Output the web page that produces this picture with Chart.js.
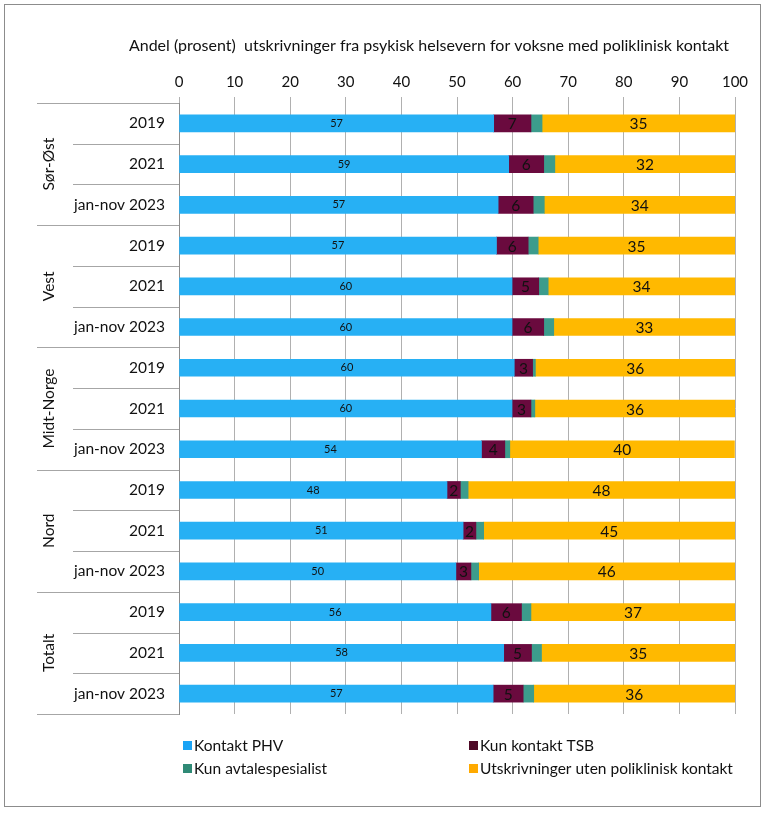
<!DOCTYPE html>
<html><head><meta charset="utf-8">
<script src="https://cdn.jsdelivr.net/npm/chart.js@4.4.1/dist/chart.umd.min.js"></script>
<style>
html,body{margin:0;padding:0;background:#fff;}
#wrap{position:relative;width:768px;height:814px;}
#frame{position:absolute;left:4px;top:4px;width:757px;height:803px;border:1px solid #8c8c8c;box-sizing:border-box;pointer-events:none;}
canvas{position:absolute;left:0;top:0;}
</style></head>
<body>
<div id="wrap"><canvas id="c" width="768" height="814"></canvas><div id="frame"></div></div>
<script>
const title = 'Andel (prosent)  utskrivninger fra psykisk helsevern for voksne med poliklinisk kontakt';
const regions = ['Sør-Øst','Vest','Midt-Norge','Nord','Totalt'];
const periods = ['2019','2021','jan-nov 2023'];
const categories = regions.flatMap(r => periods.map(p => p));
const xTicks = [0,10,20,30,40,50,60,70,80,90,100];
const seriesNames = ['Kontakt PHV','Kun kontakt TSB','Kun avtalespesialist','Utskrivninger uten poliklinisk kontakt'];
const kontaktPHV = [56.6,59.3,57.4, 57.1,59.9,59.9, 60.3,59.9,54.4, 48.2,51.1,49.8, 56.1,58.4,56.5];
const kunTSB     = [6.7,6.3,6.3, 5.7,4.8,5.7, 3.3,3.4,4.2, 2.4,2.3,2.7, 5.5,5.0,5.4];
const kunAvtale  = [2.0,2.0,2.0, 1.8,1.7,1.8, 0.5,0.7,0.9, 1.4,1.4,1.4, 1.7,1.8,1.9];
const utenPoli   = [34.7,32.4,34.3, 35.4,33.6,32.6, 35.9,36.0,40.4, 48.0,45.2,46.1, 36.7,34.8,36.2];
const colors = ['#27b0f4','#6a0a3e','#3c9c8c','#ffb900'];
const legendColors = ['#1aa3f5','#4f0a27','#2f8a76','#ffaa00'];
const FONT = 'Lato, "Open Sans", sans-serif';

const labelPlugin = {
  id:'custom',
  afterDatasetsDraw(chart){
    const ctx = chart.ctx;
    ctx.save();
    ctx.textAlign='center'; ctx.textBaseline='middle';
    [0,1,3].forEach(di=>{
      const meta = chart.getDatasetMeta(di);
      meta.data.forEach((bar,i)=>{
        const v = chart.data.datasets[di].data[i];
        const x = (bar.x + bar.base)/2;
        ctx.fillStyle = '#111';
        ctx.font = (di===0? '11px ':'15.5px ') + FONT;
        ctx.fillText(String(Math.round(v)), x, bar.y+ (di===0?0:1));
      });
    });
    ctx.restore();
  },
  afterDraw(chart){
    const ctx = chart.ctx;
    const ys = chart.scales.y;
    const area = chart.chartArea;
    ctx.save();
    // title
    ctx.fillStyle='#111';
    ctx.font='16px '+FONT;
    ctx.textAlign='center'; ctx.textBaseline='middle';
    ctx.fillText(title, 429, 46);
    // separators
    ctx.strokeStyle='#a6a6a6'; ctx.lineWidth=1;
    const n = categories.length;
    for(let i=0;i<=n;i++){
      let y;
      if(i===0) y=area.top; else if(i===n) y=area.bottom;
      else y=(ys.getPixelForValue(i-1)+ys.getPixelForValue(i))/2;
      y=Math.round(y)+0.5;
      const x0 = (i%3===0)? 37 : 73;
      ctx.beginPath(); ctx.moveTo(x0,y); ctx.lineTo(area.left,y); ctx.stroke();
    }
    // year labels
    ctx.font='15.5px '+FONT; ctx.fillStyle='#111';
    ctx.textAlign='right'; ctx.textBaseline='middle';
    categories.forEach((c,i)=>{ ctx.fillText(c, 165, ys.getPixelForValue(i)); });
    // region labels
    regions.forEach((r,g)=>{
      const yc = ys.getPixelForValue(g*3+1);
      ctx.save(); ctx.translate(49,yc); ctx.rotate(-Math.PI/2);
      ctx.textAlign='center'; ctx.textBaseline='middle';
      ctx.fillText(r,0,0); ctx.restore();
    });
    // legend
    const pos = [[183,746],[469,746],[183,769],[469,769]];
    ctx.font='15.5px '+FONT; ctx.textAlign='left'; ctx.textBaseline='middle';
    seriesNames.forEach((s,i)=>{
      const [x,y]=pos[i];
      ctx.fillStyle=legendColors[i]; ctx.fillRect(x,y-5,9,9);
      ctx.fillStyle='#111'; ctx.fillText(s,x+11,y);
    });
    ctx.restore();
  }
};

new Chart(document.getElementById('c'),{
  type:'bar',
  data:{
    labels:categories,
    datasets:[
      {label:seriesNames[0],data:kontaktPHV,backgroundColor:colors[0]},
      {label:seriesNames[1],data:kunTSB,backgroundColor:colors[1]},
      {label:seriesNames[2],data:kunAvtale,backgroundColor:colors[2]},
      {label:seriesNames[3],data:utenPoli,backgroundColor:colors[3]}
    ]
  },
  options:{
    indexAxis:'y', responsive:false, animation:false,
    datasets:{bar:{barThickness:17,borderWidth:0}},
    layout:{padding:{left:0,right:33,top:0,bottom:100}},
    plugins:{legend:{display:false},tooltip:{enabled:false},title:{display:false}},
    scales:{
      x:{position:'top',stacked:true,min:0,max:100,
        afterBuildTicks(s){ s.ticks = xTicks.map(v=>({value:v})); },
        afterFit(s){ s.height=103; },
        ticks:{font:{family:FONT,size:15},color:'#111',padding:6,maxRotation:0},
        grid:{color:'#b0b0b0',tickLength:6,drawTicks:true},
        border:{display:false}
      },
      y:{stacked:true,
        afterFit(s){ s.width=179; },
        ticks:{display:false},
        grid:{display:false},
        border:{display:true,color:'#8c8c8c'}
      }
    }
  },
  plugins:[labelPlugin]
});
</script>
</body></html>
